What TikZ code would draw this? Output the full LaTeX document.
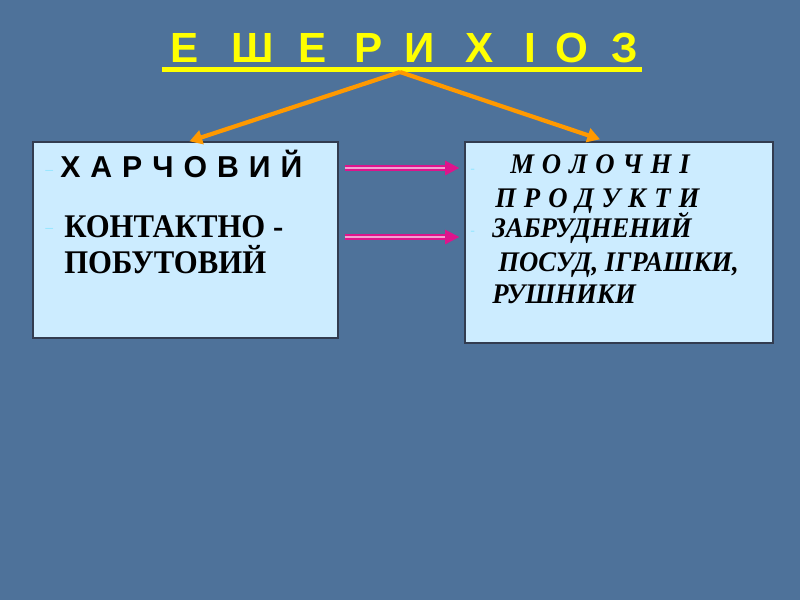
\documentclass[tikz,border=0pt]{standalone}
\usepackage{fontspec}
\setmainfont{Liberation Serif}
\newfontfamily\arialf{Liberation Sans}
\newfontfamily\tnr[FakeStretch=0.93]{Liberation Serif}
\newfontfamily\tnri[FakeStretch=0.94]{Liberation Serif}
\usetikzlibrary{arrows.meta,calc}
\definecolor{bgblue}{RGB}{78,114,154}
\definecolor{boxfill}{RGB}{204,236,255}
\definecolor{boxline}{RGB}{50,60,80}
\definecolor{titleyellow}{RGB}{255,255,0}
\definecolor{arrorange}{RGB}{255,153,0}
\definecolor{magarrow}{RGB}{222,20,140}
\definecolor{dashcol}{RGB}{150,230,255}
\tikzset{
  infobox/.style={draw=boxline,line width=1pt,fill=boxfill},
  titlechar/.style={text=titleyellow,font=\arialf\bfseries\fontsize{30}{33}\selectfont,anchor=base,inner sep=0pt},
  lefttext/.style={anchor=base west,inner sep=0pt,text=black},
  righttext/.style={anchor=base west,inner sep=0pt,text=black,font=\tnri\bfseries\itshape\fontsize{20.2}{24}\selectfont},
  bulletdash/.style={anchor=base west,inner sep=0pt,text=dashcol,font=\arialf\fontsize{10}{12}\selectfont},
  orangearrow/.style={draw=arrorange,line width=3pt,-{Triangle[length=9pt,width=10pt]}},
  magentaarrow/.style={draw=magarrow,double=magarrow!40!white,double distance=0.8pt,line width=1.4pt,-{Triangle[length=10pt,width=10pt]}}
}
\newcommand{\gp}{\hspace{0.33em}}
\newcommand{\gq}{\hspace{0.28em}}
\begin{document}
\begin{tikzpicture}[x=0.025cm,y=-0.025cm]
\fill[bgblue] (0,0) rectangle (800,600);
\useasboundingbox (0,0) rectangle (800,600);
% title
\foreach \ch/\cx [count=\i] in {Е/185,Ш/253,Е/313,Р/369,И/420,Х/480,І/530,О/572,З/625}
  \node[titlechar] (t\i) at (\cx,62) {\ch};
\coordinate (ulL) at (162,69.5);
\coordinate (ulR) at (642,69.5);
\draw[titleyellow,line width=3.2pt] (ulL) -- (ulR);
\coordinate (apex) at (400,72);
% boxes
\node[infobox,minimum width=305*0.025cm,minimum height=196*0.025cm,inner sep=0pt] (left) at (185.5,240) {};
\node[infobox,minimum width=308*0.025cm,minimum height=201*0.025cm,inner sep=0pt] (right) at (619,242.5) {};
% orange arrows
\coordinate (ltip) at ($(left.north)+(4,0)$);
\coordinate (rtip) at ($(right.north)+(-19,-2)$);
\draw[orangearrow] (apex) -- (ltip);
\draw[orangearrow] (apex) -- (rtip);
% left text
\node[bulletdash] (ld1) at (45,174) {–};
\node[lefttext,font=\arialf\bfseries\fontsize{21.5}{24}\selectfont] (l1) at (60,177) {Х\gp А\gp Р\gp Ч\gp О\gp В\gp И\gp Й};
\node[bulletdash] (ld2) at (45,232) {–};
\node[lefttext,font=\tnr\bfseries\fontsize{23.5}{26}\selectfont] (l2) at (64,237) {КОНТАКТНО -};
\node[lefttext,font=\tnr\bfseries\fontsize{23.5}{26}\selectfont] (l3) at (64,273) {ПОБУТОВИЙ};
% right text
\node[bulletdash] (rd1) at (470,173) {-};
\node[righttext] (r1) at (510,173) {М\gq О\gq Л\gq О\gq Ч\gq Н\gq І};
\node[righttext] (r2) at (495,207) {П\gq Р\gq О\gq Д\gq У\gq К\gq Т\gq И};
\node[bulletdash] (rd2) at (470,235) {-};
\node[righttext] (r3) at (492,237) {ЗАБРУДНЕНИЙ};
\node[righttext] (r4) at (498,271) {ПОСУД, ІГРАШКИ,};
\node[righttext] (r5) at (492,303) {РУШНИКИ};
% magenta arrows
\coordinate (m1s) at ($(left.east |- 0,168)+(6,0)$);
\coordinate (m1e) at ($(right.west |- 0,168)+(-5,0)$);
\coordinate (m2s) at ($(left.east |- 0,237)+(6,0)$);
\coordinate (m2e) at ($(right.west |- 0,237)+(-5,0)$);
\draw[magentaarrow] (m1s) -- (m1e);
\draw[magentaarrow] (m2s) -- (m2e);
\end{tikzpicture}
\end{document}
